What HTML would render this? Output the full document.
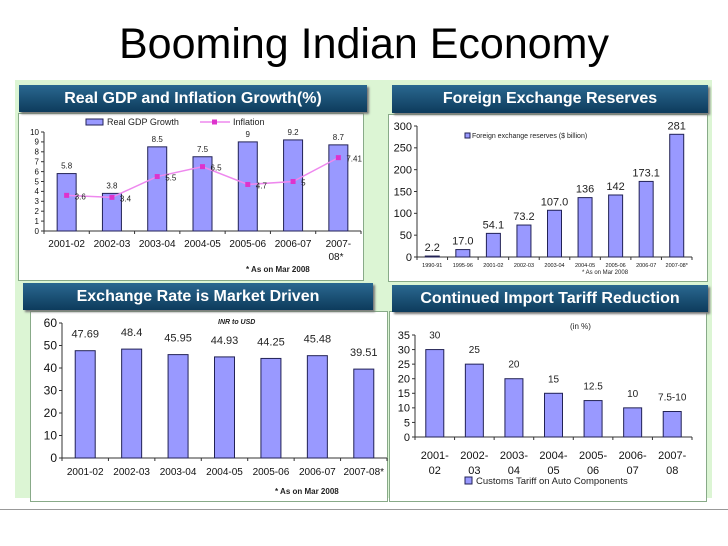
<!DOCTYPE html>
<html><head><meta charset="utf-8"><style>
body{margin:0;width:728px;height:546px;background:#fff;font-family:"Liberation Sans",sans-serif;overflow:hidden;position:relative}
.abs{position:absolute}
.hdr{position:absolute;background:linear-gradient(#2a6890,#0d3b5c);color:#fff;font-weight:bold;font-size:16px;text-align:center;line-height:27px;box-shadow:2px 2px 2px #777}
.box{position:absolute;background:#fff;border:1px solid #8a8;}
</style></head><body>
<div class="abs" style="left:0;width:728px;top:20px;text-align:center;font-size:43px;color:#000">Booming Indian Economy</div>
<div class="abs" style="left:15px;top:80px;width:697px;height:418px;background:#dcf5d4"></div>
<div class="abs" style="left:0;top:509px;width:728px;height:1px;background:#999"></div>

<div class="box" style="left:18px;top:113px;width:344px;height:166px"></div>
<div class="box" style="left:388px;top:114px;width:318px;height:166px"></div>
<div class="box" style="left:30px;top:311px;width:356px;height:189px"></div>
<div class="box" style="left:389px;top:311px;width:316px;height:189px"></div>

<div class="hdr" style="left:19px;top:85px;width:348px;height:27px">Real GDP and Inflation Growth(%)</div>
<div class="hdr" style="left:392px;top:85px;width:316px;height:28px">Foreign Exchange Reserves</div>
<div class="hdr" style="left:23px;top:283px;width:350px;height:27px">Exchange Rate is Market Driven</div>
<div class="hdr" style="left:392px;top:285px;width:316px;height:27px">Continued Import Tariff Reduction</div>

<svg id="s" class="abs" style="left:0;top:0" width="728" height="546"></svg>
<script>
const gdpCats=["2001-02","2002-03","2003-04","2004-05","2005-06","2006-07","2007-"];
const gdpVals=[5.8,3.8,8.5,7.5,9,9.2,8.7];
const gdpLabels=["5.8","3.8","8.5","7.5","9","9.2","8.7"];
const inflVals=[3.6,3.4,5.5,6.5,4.7,5,7.41];
const inflLabels=["3.6","3.4","5.5","6.5","4.7","5","7.41"];
const gdpTicks=[0,1,2,3,4,5,6,7,8,9,10];

const fxCats=["1990-91","1995-96","2001-02","2002-03","2003-04","2004-05","2005-06","2006-07","2007-08*"];
const fxVals=[2.2,17.0,54.1,73.2,107.0,136,142,173.1,281];
const fxLabels=["2.2","17.0","54.1","73.2","107.0","136","142","173.1","281"];
const fxTicks=[0,50,100,150,200,250,300];

const erCats=["2001-02","2002-03","2003-04","2004-05","2005-06","2006-07","2007-08*"];
const erVals=[47.69,48.4,45.95,44.93,44.25,45.48,39.51];
const erLabels=["47.69","48.4","45.95","44.93","44.25","45.48","39.51"];
const erTicks=[0,10,20,30,40,50,60];

const tfCats1=["2001-","2002-","2003-","2004-","2005-","2006-","2007-"];
const tfCats2=["02","03","04","05","06","07","08"];
const tfVals=[30,25,20,15,12.5,10,8.75];
const tfLabels=["30","25","20","15","12.5","10","7.5-10"];
const tfTicks=[0,5,10,15,20,25,30,35];

const svg=document.getElementById('s');
const NS='http://www.w3.org/2000/svg';
function mk(tag,at,txt){const e=document.createElementNS(NS,tag);for(const k in at)e.setAttribute(k,at[k]);if(txt!=null)e.textContent=txt;svg.appendChild(e);return e;}

function chart(o){
  const n=o.cats.length, step=(o.x1-o.x0)/n;
  const X=i=>o.x0+step*(i+0.5);
  const Y=v=>o.y0-(v/o.max)*(o.y0-o.yTop);
  let e=mk('line',{x1:o.x0,y1:o.y0,x2:o.x0,y2:o.yTop,stroke:'#333','stroke-width':1});
  
  
  e=mk('line',{x1:o.x0,y1:o.y0,x2:o.x1,y2:o.y0,stroke:'#333','stroke-width':1});
  
  
  o.ticks.forEach(t=>{
    mk('line',{x1:o.x0-3,y1:Y(t),x2:o.x0,y2:Y(t),stroke:'#333'});
    e=mk('text',{x:o.x0-5,y:Y(t)+o.tfs*0.35,'font-size':o.tfs,'text-anchor':'end',fill:'#111'},t);
    
    
  });
  for(let i=0;i<=n;i++)mk('line',{x1:o.x0+step*i,y1:o.y0,x2:o.x0+step*i,y2:o.y0+3,stroke:'#333'});
  o.vals.forEach((v,i)=>{
    e=mk('rect',{x:X(i)-o.bw/2,y:Y(v),width:o.bw,height:o.y0-Y(v),fill:'#9999ff',stroke:'#222255','stroke-width':1});
    
    
    e=mk('text',{x:X(i),y:Y(v)-o.lgap,'font-size':o.lfs,'text-anchor':'middle',fill:'#222'},o.labels[i]);
    
    
  });
  o.cats.forEach((c,i)=>{
    e=mk('text',{x:X(i),y:o.y0+o.cy,'font-size':o.cfs,'text-anchor':'middle',fill:'#111'},c);
    
    
  });
  return {X,Y};
}

const g=chart({id:'gdp',cats:gdpCats,vals:gdpVals,labels:gdpLabels,ticks:gdpTicks,max:10,x0:44,x1:361,y0:231,yTop:132,bw:19,tfs:8,lfs:8,lgap:5,cfs:10,cy:16});
let e=mk('text',{x:336,y:260,'font-size':10,'text-anchor':'middle',fill:'#111'},'08*');


e=mk('polyline',{points:inflVals.map((v,i)=>g.X(i)+','+g.Y(v)).join(' '),fill:'none',stroke:'#ee88ee','stroke-width':1.5});


inflVals.forEach((v,i)=>{
  e=mk('rect',{x:g.X(i)-2.5,y:g.Y(v)-2.5,width:5,height:5,fill:'#dd33cc'});
  
  
  e=mk('text',{x:g.X(i)+8,y:g.Y(v)+4,'font-size':8,fill:'#222'},inflLabels[i]);
  
  
});
e=mk('rect',{x:86,y:119,width:17,height:6,fill:'#9999ff',stroke:'#222255'});


e=mk('text',{x:107,y:125,'font-size':9,fill:'#222'},'Real GDP Growth');


mk('line',{x1:200,y1:122,x2:230,y2:122,stroke:'#ee88ee','stroke-width':1.5});
mk('rect',{x:212,y:119.5,width:5,height:5,fill:'#dd33cc'});
e=mk('text',{x:233,y:125,'font-size':9,fill:'#222'},'Inflation');


e=mk('text',{x:246,y:272,'font-size':8,'font-weight':'bold',fill:'#222'},'* As on Mar  2008');



chart({id:'forex',cats:fxCats,vals:fxVals,labels:fxLabels,ticks:fxTicks,max:300,x0:417,x1:692,y0:257,yTop:126,bw:14,tfs:11,lfs:11,lgap:5,cfs:5.5,cy:10});
e=mk('rect',{x:465,y:133,width:5,height:5,fill:'#9999ff',stroke:'#222255'});


e=mk('text',{x:472,y:138,'font-size':7,fill:'#222'},'Foreign exchange reserves ($ billion)');


e=mk('text',{x:582,y:274,'font-size':6,fill:'#222'},'* As on  Mar  2008');



chart({id:'exchange',cats:erCats,vals:erVals,labels:erLabels,ticks:erTicks,max:60,x0:62,x1:387,y0:458,yTop:323,bw:20,tfs:12,lfs:11,lgap:13,cfs:10,cy:17});
e=mk('text',{x:218,y:324,'font-size':7,'font-weight':'bold','font-style':'italic',fill:'#222'},'INR  to USD');


e=mk('text',{x:275,y:494,'font-size':8,'font-weight':'bold',fill:'#222'},'* As on Mar 2008');



const t=chart({id:'tariff',cats:tfCats1,vals:tfVals,labels:tfLabels,ticks:tfTicks,max:35,x0:415,x1:692,y0:437,yTop:335,bw:18,tfs:11,lfs:10,lgap:11,cfs:11,cy:22});
tfCats2.forEach((c,i)=>{
  e=mk('text',{x:t.X(i),y:474,'font-size':11,'text-anchor':'middle',fill:'#111'},c);
  
  
});
e=mk('text',{x:570,y:329,'font-size':8,fill:'#222'},'(in %)');


e=mk('rect',{x:465,y:477,width:7,height:7,fill:'#9999ff',stroke:'#222255'});


e=mk('text',{x:476,y:484,'font-size':9.5,fill:'#222'},'Customs Tariff on Auto Components');


</script>
</body></html>
